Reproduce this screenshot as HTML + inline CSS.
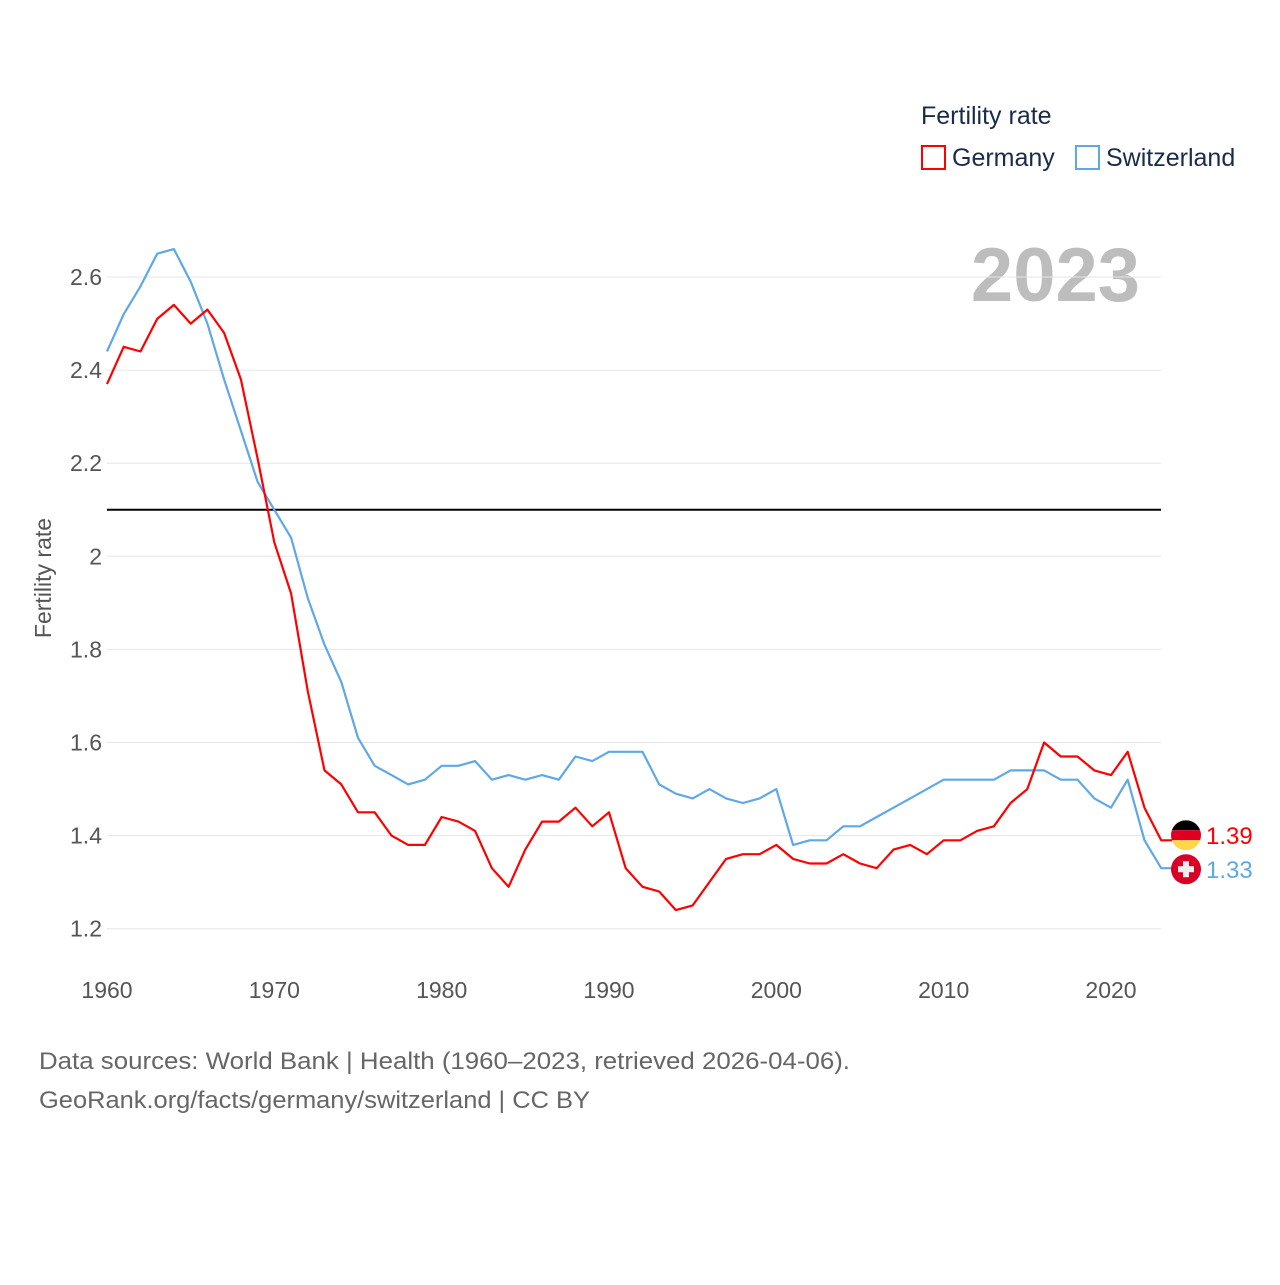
<!DOCTYPE html>
<html><head><meta charset="utf-8"><style>
body{margin:0;background:#fff;width:1280px;height:1280px;overflow:hidden;font-family:"Liberation Sans",sans-serif}
</style></head><body>
<svg id="chart" width="1280" height="1280" xmlns="http://www.w3.org/2000/svg" font-family="Liberation Sans, sans-serif">
<text x="921" y="124" font-size="25" fill="#1a2b4a">Fertility rate</text>
<rect x="922" y="146" width="23" height="23" fill="none" stroke="#f00" stroke-width="2"/>
<text x="952" y="166" font-size="25" fill="#1a2b4a">Germany</text>
<rect x="1076" y="146" width="23" height="23" fill="none" stroke="#5fa8e8" stroke-width="2"/>
<text x="1106" y="166" font-size="25" fill="#1a2b4a">Switzerland</text>
<text x="1140" y="301" font-size="76" font-weight="bold" fill="#bdbdbd" text-anchor="end">2023</text>
<text transform="translate(51,578) rotate(-90)" font-size="23" fill="#555" text-anchor="middle">Fertility rate</text>
<g id="grid"></g><g id="series"></g>
<text x="39" y="1069" font-size="24" fill="#666" textLength="811" lengthAdjust="spacingAndGlyphs">Data sources: World Bank | Health (1960–2023, retrieved 2026-04-06).</text>
<text x="39" y="1108" font-size="24" fill="#666" textLength="551" lengthAdjust="spacingAndGlyphs">GeoRank.org/facts/germany/switzerland | CC BY</text>
</svg>
<script>
const years=[];for(let y=1960;y<=2023;y++)years.push(y);
const germany=[2.37,2.45,2.44,2.51,2.54,2.50,2.53,2.48,2.38,2.21,2.03,1.92,1.71,1.54,1.51,1.45,1.45,1.40,1.38,1.38,1.44,1.43,1.41,1.33,1.29,1.37,1.43,1.43,1.46,1.42,1.45,1.33,1.29,1.28,1.24,1.25,1.30,1.35,1.36,1.36,1.38,1.35,1.34,1.34,1.36,1.34,1.33,1.37,1.38,1.36,1.39,1.39,1.41,1.42,1.47,1.50,1.60,1.57,1.57,1.54,1.53,1.58,1.46,1.39];
const switzerland=[2.44,2.52,2.58,2.65,2.66,2.59,2.50,2.38,2.27,2.16,2.10,2.04,1.91,1.81,1.73,1.61,1.55,1.53,1.51,1.52,1.55,1.55,1.56,1.52,1.53,1.52,1.53,1.52,1.57,1.56,1.58,1.58,1.58,1.51,1.49,1.48,1.50,1.48,1.47,1.48,1.50,1.38,1.39,1.39,1.42,1.42,1.44,1.46,1.48,1.50,1.52,1.52,1.52,1.52,1.54,1.54,1.54,1.52,1.52,1.48,1.46,1.52,1.39,1.33];
const yTicks=[1.2,1.4,1.6,1.8,2,2.2,2.4,2.6];
const xTicks=[1960,1970,1980,1990,2000,2010,2020];
const replacement=2.1;
const NS="http://www.w3.org/2000/svg";
const xs=y=>107+(y-1960)*(1004/60);
const ys=v=>277+(2.6-v)*465.5;
function mk(t,a,p){const e=document.createElementNS(NS,t);for(const k in a)e.setAttribute(k,a[k]);p.appendChild(e);return e;}
const grid=document.getElementById('grid'),ser=document.getElementById('series');
yTicks.forEach(v=>{
 const l=mk('line',{x1:107,x2:1161,y1:ys(v),y2:ys(v),stroke:'#e6e6e6','stroke-width':1},grid);
 
 
 const t=mk('text',{x:102,y:ys(v)+8,'font-size':23,fill:'#555','text-anchor':'end'},grid);t.textContent=String(v);
 
 
});
xTicks.forEach(y=>{
 const t=mk('text',{x:xs(y),y:998,'font-size':23,fill:'#555','text-anchor':'middle'},grid);t.textContent=y;
 
 
});
const rl=mk('line',{x1:107,x2:1161,y1:ys(replacement),y2:ys(replacement),stroke:'#000','stroke-width':2},grid);


function line(vals,color,name){
 let d=vals.map((v,i)=>(i?'L':'M')+xs(years[i]).toFixed(1)+','+ys(v).toFixed(1)).join('');
 d+='L'+(xs(2023)+11)+','+ys(vals[vals.length-1]).toFixed(1);
 const p=mk('path',{d:d,fill:'none',stroke:color,'stroke-width':2.2,'stroke-linejoin':'round'},ser);
 
 
}
line(switzerland,'#5fa8e8','switzerland-line');
line(germany,'#f00','germany-line');
const gy=ys(germany[63]),sy=ys(switzerland[63]);let cx=1186;
let gY=gy,sY=sy; if(sY-gY<34){const m=(gY+sY)/2-2;gY=m-17;sY=m+17;}
const g1=mk('g',{},ser);


const cp=mk('clipPath',{id:'cg'},g1);
mk('circle',{cx:cx,cy:gY,r:15},cp);
mk('rect',{x:cx-15,y:gY-15,width:30,height:10,fill:'#000','clip-path':'url(#cg)'},g1);
mk('rect',{x:cx-15,y:gY-5,width:30,height:10,fill:'#dd0021','clip-path':'url(#cg)'},g1);
mk('rect',{x:cx-15,y:gY+5,width:30,height:10,fill:'#ffd64a','clip-path':'url(#cg)'},g1);
const g2=mk('g',{},ser);


mk('circle',{cx:cx,cy:sY,r:15,fill:'#d80027'},g2);
mk('rect',{x:cx-8,y:sY-3,width:16,height:6,fill:'#eee'},g2);
mk('rect',{x:cx-3,y:sY-8,width:6,height:16,fill:'#eee'},g2);
const tg=mk('text',{x:1206,y:gY+9,'font-size':24,fill:'#f00'},ser);tg.textContent=germany[63].toFixed(2);


const ts=mk('text',{x:1206,y:sY+9,'font-size':24,fill:'#5fa8e8'},ser);ts.textContent=switzerland[63].toFixed(2);


</script>
</body></html>
